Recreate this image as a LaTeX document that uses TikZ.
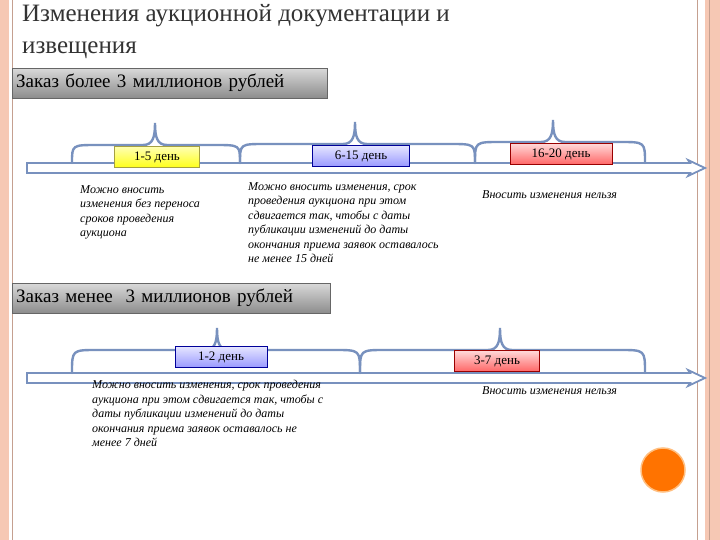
\documentclass[tikz,border=0pt]{standalone}
\usepackage{fontspec}
\setmainfont{Liberation Serif}
\begin{document}
\begin{tikzpicture}[x=1pt,y=-1pt,
  hdr/.style={draw=black!60,top color=black!15,bottom color=black!45,minimum height=30pt,anchor=north west,inner sep=4pt,align=left,font=\fontsize{19}{20}\selectfont},
  tag/.style={draw=#1!60!black,line width=0.5pt,minimum height=21pt,inner sep=2pt,font=\fontsize{13}{14}\selectfont},
  note/.style={anchor=north west,align=left,font=\itshape\fontsize{12}{14.5}\selectfont,inner sep=0pt},
  tline/.style={draw=brc,fill=white,line width=1.8pt},
  brc/.style={draw=brc,line width=2.4pt,line cap=round}]
\definecolor{brc}{RGB}{120,145,190}
\definecolor{sal}{RGB}{246,200,180}
\useasboundingbox (0,0) rectangle (720,540);
\fill[white] (0,0) rectangle (720,540);
\fill[sal] (0,0) rectangle (9,540);
\draw[sal!80!black,line width=0.5pt] (12,0) -- (12,540);
\draw[sal!80!black,line width=0.5pt] (697,0) -- (697,540);
\fill[sal] (705,0) rectangle (720,540);
\draw[sal!80!black,line width=0.5pt] (709,0) -- (709,540);
\node[anchor=north west,align=left,font=\fontsize{25}{32}\selectfont,text=black!80,inner sep=0pt] (title) at (22,4) {Изменения аукционной документации и\\извещения};
% section 1
\node[hdr,text width=307pt] (h1) at (12,68) {Заказ более 3 миллионов рублей};
\draw[tline] (27,163) -- (690,163) -- (688,160) -- (705,168) -- (688,176) -- (690,173) -- (27,173) -- cycle;
\foreach \a/\b/\p/\t in {72/240/155/145,240/475/355/144,475/645/553/142}{
  \draw[brc] (\a,163) .. controls (\a,\t) and (\a,\t) .. (\a+25,\t) -- (\p-12,\t) .. controls (\p-2,\t) and (\p,\t-8) .. (\p,\t-22) .. controls (\p,\t-8) and (\p+2,\t) .. (\p+12,\t) -- (\b-25,\t) .. controls (\b,\t) and (\b,\t) .. (\b,163);
}
\node[tag=yellow,top color=yellow!30,bottom color=yellow!90,minimum width=85pt] (d1) at (157,157) {1-5 день};
\node[tag=blue,top color=blue!10,bottom color=blue!40,minimum width=97pt] (d2) at (361,156) {6-15 день};
\node[tag=red,top color=red!15,bottom color=red!60,minimum width=102pt] (d3) at (561,154) {16-20 день};
\node[note] (n1) at (80,185) {Можно вносить\\изменения без переноса\\сроков проведения\\аукциона};
\node[note] (n2) at (248,182) {Можно вносить изменения, срок\\проведения аукциона при этом\\сдвигается так, чтобы с даты\\публикации изменений до даты\\окончания приема заявок оставалось\\не менее 15 дней};
\node[note] (n3) at (482,190) {Вносить изменения нельзя};
% section 2
\node[hdr,text width=310pt] (h2) at (12,283) {Заказ менее\ \ 3 миллионов рублей};
\draw[tline] (27,373) -- (690,373) -- (688,370) -- (705,378) -- (688,386) -- (690,383) -- (27,383) -- cycle;
\foreach \a/\b/\p/\t in {72/360/217/350,360/645/500/350}{
  \draw[brc] (\a,373) .. controls (\a,\t) and (\a,\t) .. (\a+25,\t) -- (\p-12,\t) .. controls (\p-2,\t) and (\p,\t-8) .. (\p,\t-22) .. controls (\p,\t-8) and (\p+2,\t) .. (\p+12,\t) -- (\b-25,\t) .. controls (\b,\t) and (\b,\t) .. (\b,373);
}
\node[tag=blue,top color=blue!10,bottom color=blue!40,minimum width=92pt] (e1) at (221,357) {1-2 день};
\node[tag=red,top color=red!15,bottom color=red!60,minimum width=85pt] (e2) at (497,361) {3-7 день};
\node[note] (m1) at (92,380) {Можно вносить изменения, срок проведения\\аукциона при этом сдвигается так, чтобы с\\даты публикации изменений до даты\\окончания приема заявок оставалось не\\менее 7 дней};
\node[note] (m2) at (482,386) {Вносить изменения нельзя};
\node[circle,fill=orange!90!red,draw=orange!50,line width=1.5pt,minimum size=44pt] (dot) at (663,470) {};
\end{tikzpicture}
\end{document}
